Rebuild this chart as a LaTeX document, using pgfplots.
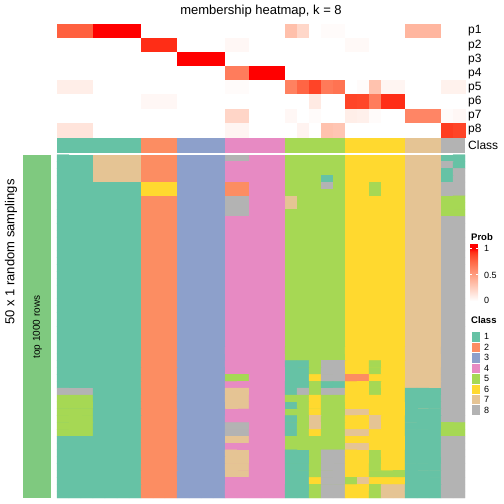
\documentclass[border=0pt]{standalone}
\usepackage{pgfplots}
\pgfplotsset{compat=1.18}
\usepackage{fontspec}
\setmainfont{Liberation Sans}
\definecolor{c1}{RGB}{102,194,165}
\definecolor{c2}{RGB}{252,141,98}
\definecolor{c3}{RGB}{141,160,203}
\definecolor{c4}{RGB}{231,138,195}
\definecolor{c5}{RGB}{166,216,84}
\definecolor{c6}{RGB}{255,217,47}
\definecolor{c7}{RGB}{229,196,148}
\definecolor{c8}{RGB}{179,179,179}
\definecolor{accent}{RGB}{127,201,127}
\definecolor{wr0}{RGB}{255,255,255}
\definecolor{wr1}{RGB}{255,231,223}
\definecolor{wr2}{RGB}{255,207,191}
\definecolor{wr3}{RGB}{255,183,160}
\definecolor{wr4}{RGB}{255,158,129}
\definecolor{wr5}{RGB}{255,132,100}
\definecolor{wr6}{RGB}{255,104,70}
\definecolor{wr7}{RGB}{255,70,40}
\definecolor{wr75}{RGB}{255,47,23}
\definecolor{wr8}{RGB}{255,0,0}
\pgfdeclareverticalshading{probshade}{100bp}{color(0bp)=(wr0); color(25bp)=(wr0); color(31.25bp)=(wr1); color(37.5bp)=(wr2); color(43.75bp)=(wr3); color(50bp)=(wr4); color(56.25bp)=(wr5); color(62.5bp)=(wr6); color(68.75bp)=(wr7); color(71.875bp)=(wr75); color(75bp)=(wr8); color(100bp)=(wr8)}
\tikzset{rowlab/.style={anchor=west, inner sep=0pt, font=\fontsize{12}{14}\selectfont},
  leglab/.style={anchor=west, inner sep=0pt, font=\fontsize{9}{11}\selectfont},
  legtitle/.style={anchor=west, inner sep=0pt, font=\bfseries\fontsize{9.5}{11}\selectfont}}
\begin{document}
\begin{tikzpicture}
\begin{axis}[
  scale only axis, width=504pt, height=504pt,
  xmin=0, xmax=504, ymin=0, ymax=504, y dir=reverse,
  hide axis, clip=false,
  point meta min=0, point meta max=1,
  colormap={wr}{rgb255(0cm)=(255,255,255) rgb255(1cm)=(255,231,223) rgb255(2cm)=(255,207,191) rgb255(3cm)=(255,183,160) rgb255(4cm)=(255,158,129) rgb255(5cm)=(255,132,100) rgb255(6cm)=(255,104,70) rgb255(7cm)=(255,70,40) rgb255(7.5cm)=(255,47,23) rgb255(8cm)=(255,0,0)},
  colormap={cls}{rgb255=(255,255,255) rgb255=(102,194,165) rgb255=(252,141,98) rgb255=(141,160,203) rgb255=(231,138,195) rgb255=(166,216,84) rgb255=(255,217,47) rgb255=(229,196,148) rgb255=(179,179,179)},
]
\path (axis cs:0,0) rectangle (axis cs:504,504);

% membership probabilities p1..p8 (rows) x 34 samples (columns)
\addplot[matrix plot*, mesh/cols=34, mesh/rows=8, point meta=explicit, colormap name=wr]
 table[header=false, row sep=\\, meta index=0,
   x expr={63+12*(\coordindex-34*floor((\coordindex+0.5)/34))},
   y expr={31.06+14.125*floor((\coordindex+0.5)/34)}] {
.78\\.78\\.78\\1\\1\\1\\1\\0\\0\\0\\0\\0\\0\\0\\0\\0\\0\\0\\0\\.33\\.21\\0\\.02\\.02\\0\\0\\0\\0\\0\\.38\\.38\\.38\\0\\0\\
0\\0\\0\\0\\0\\0\\0\\.94\\.94\\.94\\0\\0\\0\\0\\.04\\.04\\0\\0\\0\\0\\0\\0\\0\\0\\.03\\.03\\0\\0\\0\\0\\0\\0\\0\\0\\
0\\0\\0\\0\\0\\0\\0\\0\\0\\0\\1\\1\\1\\1\\0\\0\\0\\0\\0\\0\\0\\0\\0\\0\\0\\0\\0\\0\\0\\0\\0\\0\\0\\0\\
0\\0\\0\\0\\0\\0\\0\\0\\0\\0\\0\\0\\0\\0\\.66\\.66\\1\\1\\1\\0\\0\\0\\0\\0\\0\\0\\0\\0\\0\\0\\0\\0\\0\\0\\
.09\\.09\\.09\\0\\0\\0\\0\\0\\0\\0\\0\\0\\0\\0\\.02\\.02\\0\\0\\0\\.64\\.76\\.88\\.67\\.70\\0\\.02\\.32\\.05\\.05\\0\\0\\0\\.07\\.07\\
0\\0\\0\\0\\0\\0\\0\\.04\\.04\\.04\\0\\0\\0\\0\\0\\0\\0\\0\\0\\0\\0\\.11\\0\\0\\.88\\.87\\.66\\.94\\.94\\0\\0\\0\\0\\0\\
0\\0\\0\\0\\0\\0\\0\\0\\0\\0\\0\\0\\0\\0\\.22\\.22\\0\\0\\0\\.04\\0\\.02\\0\\0\\.09\\.08\\.02\\0\\0\\.62\\.62\\.62\\.02\\.04\\
.14\\.14\\.14\\0\\0\\0\\0\\0\\0\\0\\0\\0\\0\\0\\.05\\.05\\0\\0\\0\\0\\.06\\0\\.32\\.30\\0\\0\\0\\0\\0\\0\\0\\0\\.90\\.88\\
};

% class annotation row
\addplot[fill=c1, draw=none] coordinates {(57,138) (141,138) (141,152.7) (57,152.7)} -- cycle;
\addplot[fill=c2, draw=none] coordinates {(141,138) (177,138) (177,152.7) (141,152.7)} -- cycle;
\addplot[fill=c3, draw=none] coordinates {(177,138) (225,138) (225,152.7) (177,152.7)} -- cycle;
\addplot[fill=c4, draw=none] coordinates {(225,138) (285,138) (285,152.7) (225,152.7)} -- cycle;
\addplot[fill=c5, draw=none] coordinates {(285,138) (345,138) (345,152.7) (285,152.7)} -- cycle;
\addplot[fill=c6, draw=none] coordinates {(345,138) (405,138) (405,152.7) (345,152.7)} -- cycle;
\addplot[fill=c7, draw=none] coordinates {(405,138) (441,138) (441,152.7) (405,152.7)} -- cycle;
\addplot[fill=c8, draw=none] coordinates {(441,138) (465,138) (465,152.7) (441,152.7)} -- cycle;

% left annotation bar
\addplot[fill=accent, draw=none] coordinates {(22.7,154.7) (51,154.7) (51,498) (22.7,498)} -- cycle;

% underlay behind the sampling matrix (hides anti-aliasing seams between cells)
\fill[c1] (axis cs:57,154.9) rectangle (axis cs:141,497.8);
\fill[c2] (axis cs:141,154.9) rectangle (axis cs:177,497.8);
\fill[c3] (axis cs:177,154.9) rectangle (axis cs:225,497.8);
\fill[c4] (axis cs:225,154.9) rectangle (axis cs:285,497.8);
\fill[c5] (axis cs:285,154.9) rectangle (axis cs:345,497.8);
\fill[c6] (axis cs:345,154.9) rectangle (axis cs:405,497.8);
\fill[c7] (axis cs:405,154.9) rectangle (axis cs:441,497.8);
\fill[c8] (axis cs:441,154.9) rectangle (axis cs:465,497.8);

% 50 random samplings x 34 samples: class labels
\addplot[matrix plot*, mesh/cols=34, mesh/rows=50, point meta=explicit, colormap name=cls, colormap access=direct]
 table[header=false, row sep=\\, meta index=0,
   x expr={63+12*(\coordindex-34*floor((\coordindex+0.5)/34))},
   y expr={158.13+6.866*floor((\coordindex+0.5)/34)}] {
1\\1\\1\\7\\7\\7\\7\\2\\2\\2\\3\\3\\3\\3\\8\\8\\4\\4\\4\\5\\5\\5\\5\\5\\6\\6\\6\\6\\6\\7\\7\\7\\1\\1\\
1\\1\\1\\7\\7\\7\\7\\2\\2\\2\\3\\3\\3\\3\\4\\4\\4\\4\\4\\5\\5\\5\\5\\5\\6\\6\\6\\6\\6\\7\\7\\7\\8\\1\\
1\\1\\1\\7\\7\\7\\7\\2\\2\\2\\3\\3\\3\\3\\4\\4\\4\\4\\4\\5\\5\\5\\5\\5\\6\\6\\6\\6\\6\\7\\7\\7\\1\\8\\
1\\1\\1\\7\\7\\7\\7\\2\\2\\2\\3\\3\\3\\3\\4\\4\\4\\4\\4\\5\\5\\5\\1\\5\\6\\6\\6\\6\\6\\7\\7\\7\\1\\8\\
1\\1\\1\\1\\1\\1\\1\\6\\6\\6\\3\\3\\3\\3\\2\\2\\4\\4\\4\\5\\5\\5\\8\\5\\6\\6\\5\\6\\6\\7\\7\\7\\8\\8\\
1\\1\\1\\1\\1\\1\\1\\6\\6\\6\\3\\3\\3\\3\\2\\2\\4\\4\\4\\5\\5\\5\\5\\5\\6\\6\\5\\6\\6\\7\\7\\7\\8\\8\\
1\\1\\1\\1\\1\\1\\1\\2\\2\\2\\3\\3\\3\\3\\8\\8\\4\\4\\4\\7\\5\\5\\5\\5\\6\\6\\6\\6\\6\\7\\7\\7\\5\\5\\
1\\1\\1\\1\\1\\1\\1\\2\\2\\2\\3\\3\\3\\3\\8\\8\\4\\4\\4\\7\\5\\5\\5\\5\\6\\6\\6\\6\\6\\7\\7\\7\\5\\5\\
1\\1\\1\\1\\1\\1\\1\\2\\2\\2\\3\\3\\3\\3\\8\\8\\4\\4\\4\\5\\5\\5\\5\\5\\6\\6\\6\\6\\6\\7\\7\\7\\5\\5\\
1\\1\\1\\1\\1\\1\\1\\2\\2\\2\\3\\3\\3\\3\\4\\4\\4\\4\\4\\5\\5\\5\\5\\5\\6\\6\\6\\6\\6\\7\\7\\7\\8\\8\\
1\\1\\1\\1\\1\\1\\1\\2\\2\\2\\3\\3\\3\\3\\4\\4\\4\\4\\4\\5\\5\\5\\5\\5\\6\\6\\6\\6\\6\\7\\7\\7\\8\\8\\
1\\1\\1\\1\\1\\1\\1\\2\\2\\2\\3\\3\\3\\3\\4\\4\\4\\4\\4\\5\\5\\5\\5\\5\\6\\6\\6\\6\\6\\7\\7\\7\\8\\8\\
1\\1\\1\\1\\1\\1\\1\\2\\2\\2\\3\\3\\3\\3\\4\\4\\4\\4\\4\\5\\5\\5\\5\\5\\6\\6\\6\\6\\6\\7\\7\\7\\8\\8\\
1\\1\\1\\1\\1\\1\\1\\2\\2\\2\\3\\3\\3\\3\\4\\4\\4\\4\\4\\5\\5\\5\\5\\5\\6\\6\\6\\6\\6\\7\\7\\7\\8\\8\\
1\\1\\1\\1\\1\\1\\1\\2\\2\\2\\3\\3\\3\\3\\4\\4\\4\\4\\4\\5\\5\\5\\5\\5\\6\\6\\6\\6\\6\\7\\7\\7\\8\\8\\
1\\1\\1\\1\\1\\1\\1\\2\\2\\2\\3\\3\\3\\3\\4\\4\\4\\4\\4\\5\\5\\5\\5\\5\\6\\6\\6\\6\\6\\7\\7\\7\\8\\8\\
1\\1\\1\\1\\1\\1\\1\\2\\2\\2\\3\\3\\3\\3\\4\\4\\4\\4\\4\\5\\5\\5\\5\\5\\6\\6\\6\\6\\6\\7\\7\\7\\8\\8\\
1\\1\\1\\1\\1\\1\\1\\2\\2\\2\\3\\3\\3\\3\\4\\4\\4\\4\\4\\5\\5\\5\\5\\5\\6\\6\\6\\6\\6\\7\\7\\7\\8\\8\\
1\\1\\1\\1\\1\\1\\1\\2\\2\\2\\3\\3\\3\\3\\4\\4\\4\\4\\4\\5\\5\\5\\5\\5\\6\\6\\6\\6\\6\\7\\7\\7\\8\\8\\
1\\1\\1\\1\\1\\1\\1\\2\\2\\2\\3\\3\\3\\3\\4\\4\\4\\4\\4\\5\\5\\5\\5\\5\\6\\6\\6\\6\\6\\7\\7\\7\\8\\8\\
1\\1\\1\\1\\1\\1\\1\\2\\2\\2\\3\\3\\3\\3\\4\\4\\4\\4\\4\\5\\5\\5\\5\\5\\6\\6\\6\\6\\6\\7\\7\\7\\8\\8\\
1\\1\\1\\1\\1\\1\\1\\2\\2\\2\\3\\3\\3\\3\\4\\4\\4\\4\\4\\5\\5\\5\\5\\5\\6\\6\\6\\6\\6\\7\\7\\7\\8\\8\\
1\\1\\1\\1\\1\\1\\1\\2\\2\\2\\3\\3\\3\\3\\4\\4\\4\\4\\4\\5\\5\\5\\5\\5\\6\\6\\6\\6\\6\\7\\7\\7\\8\\8\\
1\\1\\1\\1\\1\\1\\1\\2\\2\\2\\3\\3\\3\\3\\4\\4\\4\\4\\4\\5\\5\\5\\5\\5\\6\\6\\6\\6\\6\\7\\7\\7\\8\\8\\
1\\1\\1\\1\\1\\1\\1\\2\\2\\2\\3\\3\\3\\3\\4\\4\\4\\4\\4\\5\\5\\5\\5\\5\\6\\6\\6\\6\\6\\7\\7\\7\\8\\8\\
1\\1\\1\\1\\1\\1\\1\\2\\2\\2\\3\\3\\3\\3\\4\\4\\4\\4\\4\\5\\5\\5\\5\\5\\6\\6\\6\\6\\6\\7\\7\\7\\8\\8\\
1\\1\\1\\1\\1\\1\\1\\2\\2\\2\\3\\3\\3\\3\\4\\4\\4\\4\\4\\5\\5\\5\\5\\5\\6\\6\\6\\6\\6\\7\\7\\7\\8\\8\\
1\\1\\1\\1\\1\\1\\1\\2\\2\\2\\3\\3\\3\\3\\4\\4\\4\\4\\4\\5\\5\\5\\5\\5\\6\\6\\6\\6\\6\\7\\7\\7\\8\\8\\
1\\1\\1\\1\\1\\1\\1\\2\\2\\2\\3\\3\\3\\3\\4\\4\\4\\4\\4\\5\\5\\5\\5\\5\\6\\6\\6\\6\\6\\7\\7\\7\\8\\8\\
1\\1\\1\\1\\1\\1\\1\\2\\2\\2\\3\\3\\3\\3\\4\\4\\4\\4\\4\\5\\5\\5\\5\\5\\6\\6\\6\\6\\6\\7\\7\\7\\8\\8\\
1\\1\\1\\1\\1\\1\\1\\2\\2\\2\\3\\3\\3\\3\\4\\4\\4\\4\\4\\1\\1\\5\\8\\8\\6\\6\\5\\6\\6\\7\\7\\7\\8\\8\\
1\\1\\1\\1\\1\\1\\1\\2\\2\\2\\3\\3\\3\\3\\4\\4\\4\\4\\4\\1\\1\\5\\8\\8\\6\\6\\5\\6\\6\\7\\7\\7\\8\\8\\
1\\1\\1\\1\\1\\1\\1\\2\\2\\2\\3\\3\\3\\3\\5\\5\\4\\4\\4\\1\\1\\6\\8\\8\\2\\2\\6\\6\\6\\7\\7\\7\\8\\8\\
1\\1\\1\\1\\1\\1\\1\\2\\2\\2\\3\\3\\3\\3\\4\\4\\4\\4\\4\\1\\1\\5\\1\\1\\6\\6\\5\\6\\6\\7\\7\\7\\8\\8\\
8\\8\\8\\1\\1\\1\\1\\2\\2\\2\\3\\3\\3\\3\\7\\7\\4\\4\\4\\1\\8\\5\\8\\8\\6\\6\\5\\6\\6\\1\\1\\1\\8\\8\\
5\\5\\5\\1\\1\\1\\1\\2\\2\\2\\3\\3\\3\\3\\7\\7\\4\\4\\4\\5\\5\\6\\5\\5\\6\\6\\6\\6\\6\\1\\1\\1\\8\\8\\
5\\5\\5\\1\\1\\1\\1\\2\\2\\2\\3\\3\\3\\3\\7\\7\\4\\4\\4\\1\\5\\6\\5\\5\\6\\6\\6\\6\\6\\1\\1\\1\\8\\8\\
5\\5\\5\\1\\1\\1\\1\\2\\2\\2\\3\\3\\3\\3\\4\\4\\4\\4\\4\\5\\5\\6\\5\\5\\7\\7\\6\\6\\6\\1\\1\\1\\8\\8\\
5\\5\\5\\1\\1\\1\\1\\2\\2\\2\\3\\3\\3\\3\\4\\4\\4\\4\\4\\1\\5\\7\\5\\5\\6\\6\\7\\6\\6\\1\\1\\1\\8\\8\\
5\\5\\5\\1\\1\\1\\1\\2\\2\\2\\3\\3\\3\\3\\8\\8\\4\\4\\4\\1\\5\\7\\5\\5\\6\\6\\7\\6\\6\\1\\1\\1\\5\\5\\
5\\5\\5\\1\\1\\1\\1\\2\\2\\2\\3\\3\\3\\3\\8\\8\\4\\4\\4\\1\\5\\6\\5\\5\\7\\7\\6\\6\\6\\1\\1\\1\\5\\5\\
1\\1\\1\\1\\1\\1\\1\\2\\2\\2\\3\\3\\3\\3\\7\\7\\4\\4\\4\\5\\5\\5\\5\\5\\6\\6\\6\\6\\6\\1\\1\\1\\8\\8\\
1\\1\\1\\1\\1\\1\\1\\2\\2\\2\\3\\3\\3\\3\\4\\4\\4\\4\\4\\5\\5\\5\\5\\5\\7\\7\\6\\6\\6\\1\\1\\1\\8\\8\\
1\\1\\1\\1\\1\\1\\1\\2\\2\\2\\3\\3\\3\\3\\7\\7\\4\\4\\4\\1\\1\\5\\8\\8\\6\\6\\5\\6\\6\\1\\1\\1\\8\\8\\
1\\1\\1\\1\\1\\1\\1\\2\\2\\2\\3\\3\\3\\3\\7\\7\\4\\4\\4\\1\\1\\5\\8\\8\\6\\6\\5\\6\\6\\1\\1\\1\\8\\8\\
1\\1\\1\\1\\1\\1\\1\\2\\2\\2\\3\\3\\3\\3\\7\\7\\4\\4\\4\\1\\1\\5\\8\\8\\6\\6\\5\\6\\6\\1\\1\\1\\8\\8\\
1\\1\\1\\1\\1\\1\\1\\2\\2\\2\\3\\3\\3\\3\\7\\7\\4\\4\\4\\1\\1\\5\\8\\8\\6\\6\\5\\5\\5\\1\\1\\1\\8\\8\\
1\\1\\1\\1\\1\\1\\1\\2\\2\\2\\3\\3\\3\\3\\4\\4\\4\\4\\4\\1\\1\\6\\8\\8\\5\\7\\6\\6\\6\\1\\1\\1\\8\\8\\
1\\1\\1\\1\\1\\1\\1\\2\\2\\2\\3\\3\\3\\3\\4\\4\\4\\4\\4\\1\\1\\5\\8\\8\\6\\6\\5\\7\\7\\1\\1\\1\\8\\8\\
1\\1\\1\\1\\1\\1\\1\\2\\2\\2\\3\\3\\3\\3\\4\\4\\4\\4\\4\\1\\1\\5\\8\\8\\6\\6\\5\\7\\7\\1\\1\\1\\8\\8\\
};

% texts
\node[font=\fontsize{13}{15}\selectfont] at (axis cs:261,11) {membership heatmap, k = 8};
\node[rowlab] at (axis cs:468,31.06) {p1};
\node[rowlab] at (axis cs:468,45.19) {p2};
\node[rowlab] at (axis cs:468,59.31) {p3};
\node[rowlab] at (axis cs:468,73.44) {p4};
\node[rowlab] at (axis cs:468,87.56) {p5};
\node[rowlab] at (axis cs:468,101.69) {p6};
\node[rowlab] at (axis cs:468,115.81) {p7};
\node[rowlab] at (axis cs:468,129.94) {p8};
\node[rowlab] at (axis cs:468,145.35) {Class};
\node[rotate=90, font=\fontsize{13}{15}\selectfont] at (axis cs:11,252) {50 x 1 random samplings};
\node[rotate=90, font=\fontsize{10}{12}\selectfont] at (axis cs:37.5,327) {top 1000 rows};

% legend: Prob
\node[legtitle] at (axis cs:471,237) {Prob};
\shade[shading=probshade] (axis cs:470,301) rectangle (axis cs:478,248.5);
\fill[wr8] (axis cs:470,248.5) rectangle (axis cs:478,244);
\draw[white, line width=0.7pt] (axis cs:470,248.5) -- (axis cs:471.6,248.5);
\draw[white, line width=0.7pt] (axis cs:476.4,248.5) -- (axis cs:478,248.5);
\draw[white, line width=0.7pt] (axis cs:470,274.75) -- (axis cs:471.6,274.75);
\draw[white, line width=0.7pt] (axis cs:476.4,274.75) -- (axis cs:478,274.75);
\node[leglab] at (axis cs:484,248.7) {1};
\node[leglab] at (axis cs:484,275.5) {0.5};
\node[leglab] at (axis cs:484,300.7) {0};

% legend: Class
\node[legtitle] at (axis cs:471,320) {Class};
\fill[c1, draw=white, line width=0.4pt] (axis cs:471,331.5) rectangle (axis cs:480.5,341.95);
\fill[c2, draw=white, line width=0.4pt] (axis cs:471,341.95) rectangle (axis cs:480.5,352.4);
\fill[c3, draw=white, line width=0.4pt] (axis cs:471,352.4) rectangle (axis cs:480.5,362.85);
\fill[c4, draw=white, line width=0.4pt] (axis cs:471,362.85) rectangle (axis cs:480.5,373.3);
\fill[c5, draw=white, line width=0.4pt] (axis cs:471,373.3) rectangle (axis cs:480.5,383.75);
\fill[c6, draw=white, line width=0.4pt] (axis cs:471,383.75) rectangle (axis cs:480.5,394.2);
\fill[c7, draw=white, line width=0.4pt] (axis cs:471,394.2) rectangle (axis cs:480.5,404.65);
\fill[c8, draw=white, line width=0.4pt] (axis cs:471,404.65) rectangle (axis cs:480.5,415.1);
\node[leglab] at (axis cs:484,336.7) {1};
\node[leglab] at (axis cs:484,347.2) {2};
\node[leglab] at (axis cs:484,357.6) {3};
\node[leglab] at (axis cs:484,368.1) {4};
\node[leglab] at (axis cs:484,378.5) {5};
\node[leglab] at (axis cs:484,389.0) {6};
\node[leglab] at (axis cs:484,399.4) {7};
\node[leglab] at (axis cs:484,409.9) {8};
\end{axis}
\end{tikzpicture}
\end{document}
